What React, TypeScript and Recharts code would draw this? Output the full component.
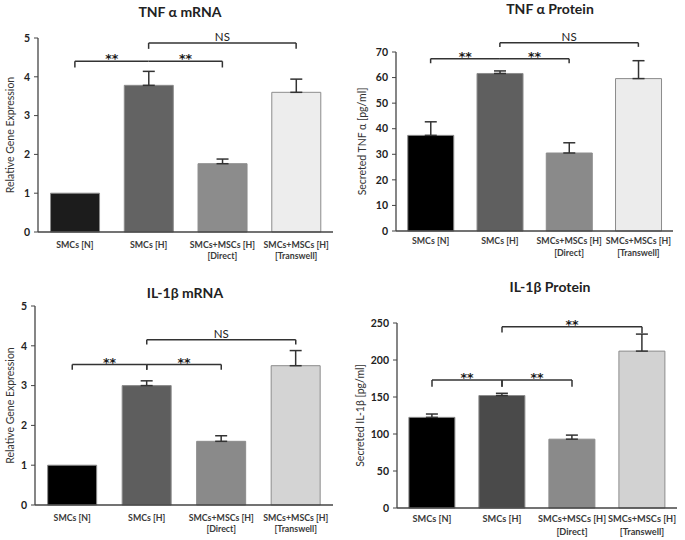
import React from "react";
import {
    BarChart,
    Bar,
    XAxis,
    YAxis,
    Cell,
    ErrorBar,
    ReferenceLine,
} from "recharts";

const FONT = "Lato, 'Open Sans', sans-serif";

const categories = [
    "SMCs [N]",
    "SMCs [H]",
    "SMCs+MSCs [H]\n[Direct]",
    "SMCs+MSCs [H]\n[Transwell]",
];

// valores
const tnfMrna = [1.0, 3.78, 1.76, 3.6];
const tnfMrnaErr = [0, 0.36, 0.12, 0.34];
const tnfProtein = [37.4, 61.6, 30.5, 59.6];
const tnfProteinErr = [5.3, 1.0, 4.0, 7.0];
const il1bMrna = [1.0, 3.0, 1.6, 3.5];
const il1bMrnaErr = [0, 0.12, 0.14, 0.38];
const il1bProtein = [122.5, 152, 93, 212];
const il1bProteinErr = [4.5, 3, 5.5, 23];

const ticksMrna = [0, 1, 2, 3, 4, 5];
const ticksTnfProtein = [0, 10, 20, 30, 40, 50, 60, 70];
const ticksIl1bProtein = [0, 50, 100, 150, 200, 250];

// [desde, hasta, altura, caida izq, caida der, texto]
const bracketsTnfMrna = [
    [0, 1, 4.4, 4.24, 4.4, "**"],
    [1, 2, 4.4, 4.4, 4.24, "**"],
    [1, 3, 4.87, 4.72, 4.72, "NS"],
];
const bracketsTnfProtein = [
    [0, 1, 67.4, 65.6, 67.4, "**"],
    [1, 2, 67.4, 67.4, 65.6, "**"],
    [1, 3, 73.6, 72.0, 72.0, "NS"],
];
const bracketsIl1bMrna = [
    [0, 1, 3.53, 3.4, 3.4, "**"],
    [1, 2, 3.53, 3.4, 3.4, "**"],
    [1, 3, 4.15, 4.03, 4.03, "NS"],
];
const bracketsIl1bProtein = [
    [0, 1, 173, 164, 164, "**"],
    [1, 2, 173, 164, 164, "**"],
    [1, 3, 245, 237, 236, "**"],
];

const build = (values: number[], errs: number[], colors: string[]) =>
    categories.map((name, i) => ({
        name,
        value: values[i],
        err: errs[i] ? [0, errs[i]] : null,
        color: colors[i],
    }));

const XTick = (props: any) => {
    const { x, y, payload, fontSize, firstDy, lineGap } = props;
    const lines = String(payload.value).split("\n");
    return (
        <text
            x={x}
            y={y}
            textAnchor="middle"
            fontSize={fontSize}
            fontWeight="bold"
            fill="#3a3a3a"
            fontFamily={FONT}
        >
            {lines.map((l, i) => (
                <tspan key={i} x={x} dy={i === 0 ? firstDy : lineGap}>
                    {l}
                </tspan>
            ))}
        </text>
    );
};

const Panel: React.FC<any> = (p) => {
    const data = build(p.values, p.errs, p.colors);
    return (
        <div style={{ position: "absolute", left: p.left, top: p.top, width: p.w, height: p.h }}>
            <div
                style={{
                    position: "absolute",
                    left: p.titleX - 100,
                    top: p.titleY - 10,
                    width: 200,
                    textAlign: "center",
                    fontFamily: FONT,
                    fontWeight: "bold",
                    fontSize: 14,
                    color: "#222",
                    lineHeight: "20px",
                }}
            >
                {p.title}
            </div>
            <BarChart
                width={p.w}
                height={p.h}
                data={data}
                barCategoryGap="17%"
                margin={{ top: p.plotTop, right: p.right, left: 0, bottom: 0 }}
                style={{ position: "absolute", left: 0, top: 0 }}
            >
                <XAxis
                    dataKey="name"
                    height={p.xh}
                    interval={0}
                    tickLine={false}
                    tickSize={0}
                    tickMargin={0}
                    axisLine={{ stroke: "#444", strokeWidth: 1.3 }}
                    tick={<XTick fontSize={p.xFont} firstDy={p.firstDy} lineGap={p.lineGap} />}
                />
                <YAxis
                    width={p.yw}
                    domain={[p.ticks[0], p.ticks[p.ticks.length - 1]]}
                    ticks={p.ticks}
                    interval={0}
                    tickSize={4}
                    tickMargin={4}
                    axisLine={{ stroke: "#444", strokeWidth: 1.3 }}
                    tickLine={{ stroke: "#444" }}
                    tick={{ fontSize: 10.5, fontWeight: "bold", fill: "#222", fontFamily: FONT }}
                    label={{
                        value: p.yLabel,
                        angle: -90,
                        position: "insideLeft",
                        offset: p.yLabelX,
                        style: { textAnchor: "middle", fontSize: 10.5, fill: "#333", fontFamily: FONT },
                    }}
                />
                <Bar dataKey="value" stroke="#8c8c8c" strokeWidth={1} isAnimationActive={false}>
                    {data.map((d, i) => (
                        <Cell key={`c-${i}`} fill={d.color} />
                    ))}
                    <ErrorBar
                        dataKey="err"
                        direction="y"
                        width={6}
                        stroke="#333"
                        strokeWidth={1.5}
                        isAnimationActive={false}
                    />
                </Bar>
                {p.brackets.map((b: any, i: number) => (
                    <ReferenceLine
                        key={`h-${i}`}
                        segment={[
                            { x: categories[b[0]], y: b[2] },
                            { x: categories[b[1]], y: b[2] },
                        ]}
                        stroke="#333"
                        strokeWidth={1.5}
                        ifOverflow="visible"
                        label={
                            b[5] === "NS"
                                ? {
                                      value: b[5],
                                      position: "top",
                                      offset: 2,
                                      fontSize: 11.5,
                                      fill: "#222",
                                      fontFamily: FONT,
                                      style: { fill: "#222" },
                                  }
                                : {
                                      value: b[5],
                                      position: "top",
                                      offset: -2,
                                      fontSize: 12.5,
                                      fontWeight: "bold",
                                      fill: "#1a1a1a",
                                      fontFamily: "'DejaVu Sans', sans-serif",
                                      style: { fill: "#1a1a1a" },
                                  }
                        }
                    />
                ))}
                {p.brackets.map((b: any, i: number) => (
                    <ReferenceLine
                        key={`l-${i}`}
                        segment={[
                            { x: categories[b[0]], y: b[2] },
                            { x: categories[b[0]], y: b[3] },
                        ]}
                        stroke="#333"
                        strokeWidth={1.5}
                        ifOverflow="visible"
                    />
                ))}
                {p.brackets.map((b: any, i: number) => (
                    <ReferenceLine
                        key={`r-${i}`}
                        segment={[
                            { x: categories[b[1]], y: b[2] },
                            { x: categories[b[1]], y: b[4] },
                        ]}
                        stroke="#333"
                        strokeWidth={1.5}
                        ifOverflow="visible"
                    />
                ))}
            </BarChart>
        </div>
    );
};

export default function App() {
    return (
        <div
            style={{
                position: "absolute",
                left: 0,
                top: 0,
                width: 685,
                height: 540,
                background: "#fff",
                overflow: "hidden",
            }}
        >
            <Panel
                left={0} top={0} w={342} h={270}
                yw={38} plotTop={38} xh={38} right={9}
                title="TNF α mRNA" titleX={180} titleY={12}
                yLabel="Relative Gene Expression" yLabelX={10}
                values={tnfMrna} errs={tnfMrnaErr} ticks={ticksMrna}
                colors={["#1c1c1c", "#636363", "#8c8c8c", "#ededed"]}
                brackets={bracketsTnfMrna}
                xFont={8.8} firstDy={16} lineGap={11}
            />
            <Panel
                left={340} top={0} w={345} h={270}
                yw={56} plotTop={52} xh={39} right={12}
                title="TNF α Protein" titleX={210} titleY={9}
                yLabel="Secreted TNF α [pg/ml]" yLabelX={22}
                values={tnfProtein} errs={tnfProteinErr} ticks={ticksTnfProtein}
                colors={["#000000", "#5f5f5f", "#8a8a8a", "#ececec"]}
                brackets={bracketsTnfProtein}
                xFont={8.8} firstDy={13} lineGap={12}
            />
            <Panel
                left={0} top={270} w={342} h={270}
                yw={35} plotTop={36} xh={35} right={9}
                title="IL-1β mRNA" titleX={185} titleY={23}
                yLabel="Relative Gene Expression" yLabelX={10}
                values={il1bMrna} errs={il1bMrnaErr} ticks={ticksMrna}
                colors={["#000000", "#5e5e5e", "#8a8a8a", "#d4d4d4"]}
                brackets={bracketsIl1bMrna}
                xFont={8.8} firstDy={16} lineGap={11}
            />
            <Panel
                left={340} top={270} w={345} h={270}
                yw={57} plotTop={53} xh={32} right={8}
                title="IL-1β Protein" titleX={210} titleY={17}
                yLabel="Secreted IL-1β [pg/ml]" yLabelX={20}
                values={il1bProtein} errs={il1bProteinErr} ticks={ticksIl1bProtein}
                colors={["#000000", "#4a4a4a", "#8a8a8a", "#d2d2d2"]}
                brackets={bracketsIl1bProtein}
                xFont={9.2} firstDy={14} lineGap={13}
            />
        </div>
    );
}
